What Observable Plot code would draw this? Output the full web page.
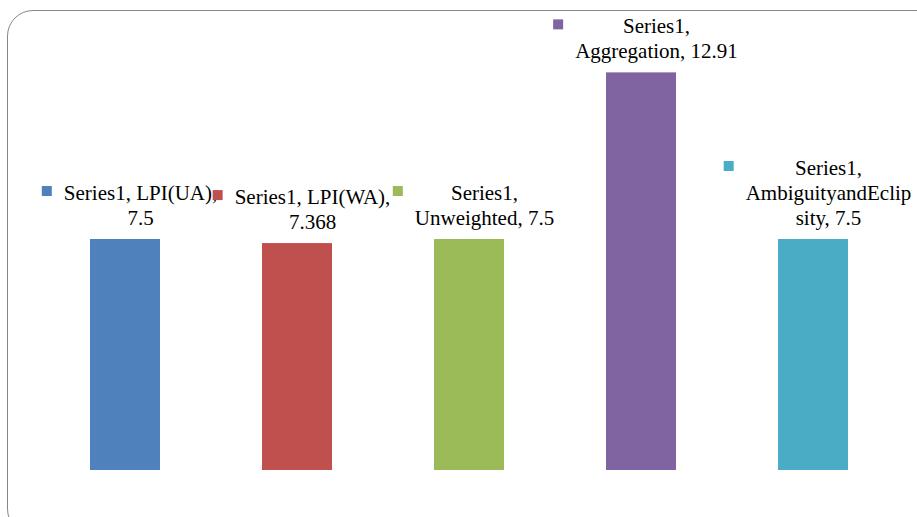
<!DOCTYPE html>
<html>
<head>
<meta charset="utf-8">
<script src="https://cdn.jsdelivr.net/npm/d3@7"></script>
<script src="https://cdn.jsdelivr.net/npm/@observablehq/plot@0.6"></script>
<style>
  html, body { margin: 0; padding: 0; background: #fff; overflow: hidden; }
  #wrap { position: relative; width: 917px; height: 517px; overflow: hidden; }
  #border { position: absolute; left: 7px; top: 10px; width: 935px; height: 525px;
    border: 1.6px solid #878787; border-radius: 26px; box-sizing: border-box; }
  #chart { position: absolute; left: 0; top: 0; }
</style>
</head>
<body>
<div id="wrap"><div id="border"></div><div id="chart"></div></div>
<script>
const categories = ["LPI(UA)", "LPI(WA)", "Unweighted", "Aggregation", "AmbiguityandEclipsity"];
const values = [7.5, 7.368, 7.5, 12.91, 7.5];
const labels = [
  "Series1, LPI(UA),\n7.5",
  "Series1, LPI(WA),\n7.368",
  "Series1,\nUnweighted, 7.5",
  "Series1,\nAggregation, 12.91",
  "Series1,\nAmbiguityandEclip\nsity, 7.5"
];
const colors = ["#4F81BD", "#C0504D", "#9BBB59", "#8064A2", "#4BACC6"];

const data = categories.map((c, i) => ({cat: c, value: values[i], label: labels[i]}));

const fontSize = 21;
const lineStep = 25;
const textDx = 15;
const textDy = -14.5;
const ctx = document.createElement("canvas").getContext("2d");
ctx.font = `${fontSize}px "Liberation Serif"`;

const markerMarks = data.map((d, i) => {
  const lines = d.label.split("\n");
  const maxW = Math.max(...lines.map(l => ctx.measureText(l).width));
  const dx = textDx - maxW / 2 - 12 - 5;
  const dy = textDy - (lines.length - 1) * lineStep - 9;
  return Plot.dot([d], {x: "cat", y: "value", dx, dy, symbol: "square", r: 10 / Math.sqrt(Math.PI), fill: colors[i], stroke: null});
});

const chart = Plot.plot({
  width: 917,
  height: 517,
  marginLeft: 37,
  marginRight: 15.5,
  marginTop: 8,
  marginBottom: 47,
  style: {background: "transparent", overflow: "visible"},
  x: {domain: categories, paddingInner: 0.595, paddingOuter: 0.2975, axis: null},
  y: {domain: [0, 15], axis: null},
  color: {domain: categories, range: colors},
  marks: [
    Plot.barY(data, {x: "cat", y: "value", fill: "cat"}),
    Plot.text(data, {
      x: "cat", y: "value", text: "label",
      dx: textDx, dy: textDy,
      lineAnchor: "bottom", lineHeight: lineStep / fontSize,
      textAnchor: "middle",
      fontSize: fontSize, fontFamily: "'Liberation Serif', 'Times New Roman', serif",
      fill: "#000"
    }),
    ...markerMarks
  ]
});
document.getElementById("chart").appendChild(chart);
</script>
</body>
</html>
